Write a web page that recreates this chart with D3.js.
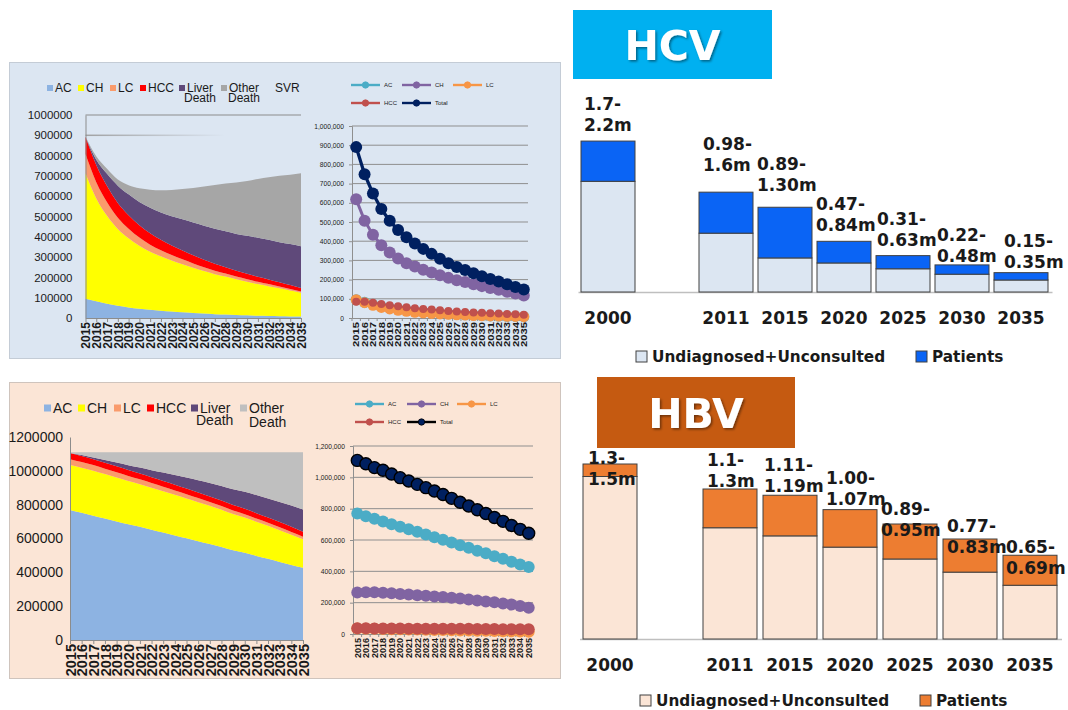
<!DOCTYPE html>
<html>
<head>
<meta charset="utf-8">
<script src="https://d3js.org/d3.v7.min.js"></script>
<style>
  body { margin: 0; background: #fff; }
  svg { display: block; }
  text { font-family: "Liberation Sans", Arial, sans-serif; fill: #1a1a1a; }
  .bold { font-family: "DejaVu Sans", Verdana, sans-serif; font-weight: bold; }
</style>
</head>
<body>
<svg id="chart" width="1068" height="710"></svg>
<script>
// ---- data ----
const years = [2015, 2016, 2017, 2018, 2019, 2020, 2021, 2022, 2023, 2024, 2025,
               2026, 2027, 2028, 2029, 2030, 2031, 2032, 2033, 2034, 2035];

// HCV model (persons)
const hcvAC  = [95000, 82000, 70000, 60000, 52000, 46000, 41000, 36000, 32000, 28000, 25000,
                22000, 19000, 17000, 15000, 13000, 11000, 10000, 9000, 8000, 7000];
const hcvCH  = [618000, 507000, 434000, 379000, 341000, 310000, 285000, 268000, 251000, 237000, 223000,
                209000, 197000, 187000, 176000, 166000, 156000, 147000, 137000, 127000, 117000];
const hcvLC  = [95000, 80000, 66000, 55000, 47000, 40000, 35000, 30000, 27000, 24000, 21000,
                19000, 17000, 15000, 13000, 12000, 11000, 10000, 9000, 8000, 7000];
const hcvHCC = [85000, 85000, 80000, 73000, 66000, 61000, 56000, 51000, 47000, 44000, 40000,
                37000, 34000, 31000, 29000, 27000, 25000, 23000, 21000, 19000, 17000];
const hcvLiverDeath = [0, 25000, 60000, 85000, 103000, 115000, 126000, 135000, 144000, 153000, 162000,
                168000, 173000, 177000, 181000, 187000, 192000, 195000, 197000, 202000, 206000];
const hcvOtherDeath = [0, 18000, 25000, 30000, 45000, 67000, 89000, 109000, 129000, 149000, 169000,
                193000, 215000, 235000, 254000, 270000, 290000, 308000, 328000, 342000, 359000];
const hcvTotal = [890000, 749000, 648000, 568000, 506000, 458000, 420000, 388000, 360000, 334000, 308000,
                285000, 266000, 250000, 233000, 218000, 203000, 190000, 176000, 162000, 148000];

// HBV model (persons)
const hbvAC  = [769000, 752000, 735000, 718000, 701000, 684000, 669000, 652000, 635000, 618000, 601000,
                584000, 567000, 550000, 531000, 516000, 497000, 480000, 461000, 444000, 427000];
const hbvCH  = [265000, 266000, 266000, 263000, 260000, 256000, 252000, 248000, 244000, 240000, 236000,
                231000, 226000, 220000, 214000, 208000, 202000, 195000, 188000, 178000, 168000];
const hbvLC  = [35000, 34000, 33000, 32000, 31000, 30000, 29000, 28000, 27000, 26000, 25000,
                24000, 23000, 22000, 21000, 20000, 19000, 18000, 17000, 16000, 15000];
const hbvHCC = [36000, 36000, 35000, 35000, 35000, 35000, 34000, 34000, 34000, 34000, 33000,
                33000, 33000, 33000, 32000, 32000, 32000, 31000, 31000, 31000, 30000];
const hbvLiverDeath = [0, 5000, 10000, 16000, 22000, 28000, 35000, 42000, 50000, 57000, 65000,
                72000, 79000, 86000, 93000, 100000, 107000, 113000, 119000, 126000, 132000];
const hbvOtherDeath = [5000, 17000, 31000, 46000, 61000, 77000, 91000, 106000, 120000, 135000, 150000,
                166000, 182000, 199000, 219000, 234000, 253000, 273000, 294000, 315000, 338000];
const hbvTotal = [1108000, 1087000, 1062000, 1045000, 1021000, 998000, 977000, 955000, 934000, 913000, 890000,
                866000, 841000, 817000, 793000, 769000, 744000, 719000, 693000, 668000, 643000];

// bar charts (millions)
const barYears = ["2000", "2011", "2015", "2020", "2025", "2030", "2035"];
const hcvUndiagnosed = [1.43, 0.76, 0.44, 0.375, 0.30, 0.23, 0.155];
const hcvPatients    = [0.52, 0.53, 0.655, 0.28, 0.17, 0.12, 0.095];
const hcvLow  = ["1.7", "0.98", "0.89", "0.47", "0.31", "0.22", "0.15"];
const hcvHigh = ["2.2m", "1.6m", "1.30m", "0.84m", "0.63m", "0.48m", "0.35m"];
const hbvUndiagnosed = [1.30, 0.89, 0.825, 0.735, 0.64, 0.535, 0.43];
const hbvPatients    = [0.10, 0.31, 0.325, 0.30, 0.28, 0.265, 0.24];
const hbvLow  = ["1.3", "1.1", "1.11", "1.00", "0.89", "0.77", "0.65"];
const hbvHigh = ["1.5m", "1.3m", "1.19m", "1.07m", "0.95m", "0.83m", "0.69m"];

const svg = d3.select("#chart");
const defs = svg.append("defs");
defs.append("filter").attr("id", "shadow").attr("x", "-20%").attr("y", "-20%").attr("width", "140%").attr("height", "140%")
  .append("feDropShadow").attr("dx", 1.5).attr("dy", 1.5).attr("stdDeviation", 1)
  .attr("flood-color", "#000").attr("flood-opacity", 0.45);
const fade = defs.append("linearGradient").attr("id", "fade");
fade.append("stop").attr("offset", "0%").attr("stop-color", "#9a9a9a").attr("stop-opacity", 0.9);
fade.append("stop").attr("offset", "100%").attr("stop-color", "#9a9a9a").attr("stop-opacity", 0);

// panels
svg.append("rect").attr("x", 9.5).attr("y", 62.5).attr("width", 551).attr("height", 296)
  .attr("fill", "#dce6f2").attr("stroke", "#c4ccd6");
svg.append("rect").attr("x", 9.5).attr("y", 382.5).attr("width", 551).attr("height", 296)
  .attr("fill", "#fbe5d6").attr("stroke", "#cfc4bd");

function areaChart(cfg) {
  const g = svg.append("g");
  const x = d3.scalePoint().domain(years).range([cfg.left, cfg.right]);
  const y = d3.scaleLinear().domain([0, cfg.yMax]).range([cfg.bottom, cfg.top]);
  const rows = years.map((yr, i) => {
    const r = {year: yr};
    cfg.series.forEach(s => r[s.key] = s.values[i]);
    return r;
  });
  const stacked = d3.stack().keys(cfg.series.map(s => s.key))(rows);
  const area = d3.area().x(d => x(d.data.year)).y0(d => y(d[0])).y1(d => y(d[1]))
    .curve(d3.curveMonotoneX);

  if (cfg.fadeLine) {
    g.append("rect").attr("x", cfg.left).attr("y", y(cfg.fadeLine) - 0.75)
      .attr("width", 140).attr("height", 1.5).attr("fill", "url(#fade)");
  }
  if (cfg.topLine) {
    g.append("line").attr("x1", cfg.left).attr("x2", cfg.right)
      .attr("y1", y(cfg.yMax)).attr("y2", y(cfg.yMax)).attr("stroke", "#8c8c8c");
  }

  g.selectAll("path.layer").data(stacked).join("path")
    .attr("class", "layer").attr("d", area)
    .attr("fill", (d, i) => cfg.series[i].color);

  const ya = g.append("g").attr("transform", `translate(${cfg.left},0)`)
    .call(d3.axisLeft(y).tickValues(cfg.yTicks).tickFormat(d3.format("d")).tickSize(0).tickPadding(cfg.tickPad));
  ya.select(".domain").attr("stroke", "#8c8c8c");
  ya.selectAll("text").style("font-size", cfg.yFont + "px").style("font-family", "Liberation Sans, Arial").attr("fill", "#222");

  const xa = g.append("g").attr("transform", `translate(0,${cfg.bottom})`)
    .call(d3.axisBottom(x).tickSize(4).tickSizeOuter(0));
  xa.select(".domain").attr("stroke", "#8c8c8c");
  xa.selectAll(".tick line").attr("stroke", "#8c8c8c");
  xa.selectAll("text")
    .attr("transform", "rotate(-90)")
    .attr("x", -4).attr("y", 0).attr("dy", "0.36em")
    .attr("text-anchor", "end")
    .style("font-size", cfg.xFont + "px").style("font-weight", "bold")
    .style("font-family", "Liberation Sans, Arial").attr("fill", "#222");

  // legend
  const lg = g.append("g");
  cfg.legend.forEach(it => {
    if (it.sq != null) {
      lg.append("rect").attr("x", it.sq).attr("y", cfg.legendY - cfg.sqSize / 2)
        .attr("width", cfg.sqSize).attr("height", cfg.sqSize).attr("fill", it.color);
    }
    lg.append("text").attr("x", it.tx).attr("y", cfg.legendY + cfg.legFont * 0.36)
      .style("font-size", cfg.legFont + "px").attr("fill", "#333").text(it.label);
    if (it.line2) {
      lg.append("text").attr("x", it.line2.x).attr("y", it.line2.y)
        .style("font-size", cfg.legFont + "px").attr("fill", "#333").text("Death");
    }
  });
}

function lineChart(cfg) {
  const g = svg.append("g");
  const x = d3.scaleBand().domain(years).range([cfg.left, cfg.right]);
  const cx = yr => x(yr) + x.bandwidth() / 2;
  const y = d3.scaleLinear().domain([0, cfg.yMax]).range([cfg.bottom, cfg.top]);

  g.selectAll("line.grid").data(cfg.yTicks.filter(v => v > 0)).join("line")
    .attr("class", "grid")
    .attr("x1", cfg.left).attr("x2", cfg.right)
    .attr("y1", d => y(d)).attr("y2", d => y(d))
    .attr("stroke", "#8f8f8f").attr("stroke-width", 1);

  const ya = g.append("g").attr("transform", `translate(${cfg.left},0)`)
    .call(d3.axisLeft(y).tickValues(cfg.yTicks).tickFormat(d3.format(",")).tickSize(3).tickPadding(5));
  ya.select(".domain").attr("stroke", "#8f8f8f");
  ya.selectAll(".tick line").attr("stroke", "#8f8f8f");
  ya.selectAll("text").style("font-size", "6.7px").style("font-family", "Liberation Sans, Arial").attr("fill", "#333");

  const xa = g.append("g").attr("transform", `translate(0,${cfg.bottom})`)
    .call(d3.axisBottom(x).tickSize(3).tickSizeOuter(0));
  xa.select(".domain").attr("stroke", "#8f8f8f");
  xa.selectAll(".tick line").attr("stroke", "#8f8f8f").attr("transform", `translate(${-x.bandwidth() / 2},0)`);
  xa.selectAll("text")
    .attr("transform", "rotate(-90)")
    .attr("x", -4).attr("y", 0).attr("dy", "0.36em")
    .attr("text-anchor", "end")
    .attr("textLength", cfg.xLabelLen).attr("lengthAdjust", "spacingAndGlyphs")
    .style("font-size", "9px").style("font-weight", "bold")
    .style("font-family", "Liberation Sans, Arial").attr("fill", "#333");

  const line = d3.line().x((d, i) => cx(years[i])).y(d => y(d));
  cfg.series.forEach(s => {
    g.append("path").datum(s.values).attr("d", line)
      .attr("fill", "none").attr("stroke", s.line).attr("stroke-width", s.width);
    g.append("g").selectAll("circle").data(s.values).join("circle")
      .attr("cx", (d, i) => cx(years[i])).attr("cy", d => y(d)).attr("r", s.r)
      .attr("fill", s.fill).attr("stroke", s.stroke).attr("stroke-width", s.sw);
  });

  // legend
  cfg.series.forEach(s => {
    const p = s.leg;
    g.append("line").attr("x1", p.x).attr("x2", p.x + 29).attr("y1", p.y).attr("y2", p.y)
      .attr("stroke", s.line).attr("stroke-width", 2.4);
    g.append("circle").attr("cx", p.x + 14.5).attr("cy", p.y).attr("r", 3.2)
      .attr("fill", s.fill).attr("stroke", s.stroke).attr("stroke-width", 0.8);
    g.append("text").attr("x", p.x + 33).attr("y", p.y + 2.2)
      .style("font-size", "6px").attr("fill", "#333").text(s.name);
  });
}

// ---- HCV area ----
areaChart({
  left: 85.5, right: 301, top: 115, bottom: 318, yMax: 1000000,
  yTicks: d3.range(0, 1000001, 100000), tickPad: 13, yFont: 11.5, xFont: 12,
  topLine: true, fadeLine: 900000,
  series: [
    {key: "AC", values: hcvAC, color: "#8db3e2"},
    {key: "CH", values: hcvCH, color: "#ffff00"},
    {key: "LC", values: hcvLC, color: "#fa9b6c"},
    {key: "HCC", values: hcvHCC, color: "#ff0000"},
    {key: "Liver Death", values: hcvLiverDeath, color: "#5f497a"},
    {key: "Other Death", values: hcvOtherDeath, color: "#a6a6a6"}
  ],
  legendY: 88, sqSize: 6, legFont: 12,
  legend: [
    {sq: 47, tx: 55, label: "AC", color: "#8db3e2"},
    {sq: 78, tx: 86, label: "CH", color: "#ffff00"},
    {sq: 110, tx: 118, label: "LC", color: "#fa9b6c"},
    {sq: 140, tx: 148, label: "HCC", color: "#ff0000"},
    {sq: 179, tx: 187, label: "Liver", color: "#5f497a", line2: {x: 184, y: 102}},
    {sq: 221, tx: 229, label: "Other", color: "#a6a6a6", line2: {x: 228, y: 102}},
    {sq: null, tx: 275, label: "SVR"}
  ]
});

// ---- HBV area ----
areaChart({
  left: 70, right: 303, top: 437, bottom: 640, yMax: 1200000,
  yTicks: d3.range(0, 1200001, 200000), tickPad: 7, yFont: 14, xFont: 14.5,
  topLine: false,
  series: [
    {key: "AC", values: hbvAC, color: "#8db3e2"},
    {key: "CH", values: hbvCH, color: "#ffff00"},
    {key: "LC", values: hbvLC, color: "#fa9b6c"},
    {key: "HCC", values: hbvHCC, color: "#ff0000"},
    {key: "Liver Death", values: hbvLiverDeath, color: "#5f497a"},
    {key: "Other Death", values: hbvOtherDeath, color: "#bfbfbf"}
  ],
  legendY: 408, sqSize: 7, legFont: 14,
  legend: [
    {sq: 44, tx: 53, label: "AC", color: "#8db3e2"},
    {sq: 78, tx: 87, label: "CH", color: "#ffff00"},
    {sq: 114, tx: 123, label: "LC", color: "#fa9b6c"},
    {sq: 147, tx: 156, label: "HCC", color: "#ff0000"},
    {sq: 191, tx: 200, label: "Liver", color: "#5f497a", line2: {x: 196, y: 425}},
    {sq: 240, tx: 249, label: "Other", color: "#bfbfbf", line2: {x: 249, y: 427}}
  ]
});

// ---- HCV lines ----
lineChart({
  left: 352, right: 528, top: 126, bottom: 318, yMax: 1000000,
  yTicks: d3.range(0, 1000001, 100000), xLabelLen: 25,
  series: [
    {name: "AC", values: hcvAC, line: "#4bacc6", width: 3, r: 5.5, fill: "#4bacc6", stroke: "#4bacc6", sw: 0, leg: {x: 351, y: 85}},
    {name: "CH", values: hcvCH, line: "#8064a2", width: 3, r: 6, fill: "#8064a2", stroke: "#8064a2", sw: 0, leg: {x: 402, y: 85}},
    {name: "LC", values: hcvLC, line: "#f79646", width: 3, r: 5.5, fill: "#f79646", stroke: "#f79646", sw: 0, leg: {x: 453, y: 85}},
    {name: "HCC", values: hcvHCC, line: "#c0504d", width: 2, r: 4, fill: "#c0504d", stroke: "#c0504d", sw: 0, leg: {x: 351, y: 103}},
    {name: "Total", values: hcvTotal, line: "#002060", width: 3.3, r: 6, fill: "#002060", stroke: "#002060", sw: 0, leg: {x: 402, y: 103}}
  ]
});

// ---- HBV lines ----
lineChart({
  left: 353, right: 533, top: 446, bottom: 634, yMax: 1200000,
  yTicks: d3.range(0, 1200001, 200000), xLabelLen: 20,
  series: [
    {name: "AC", values: hbvAC, line: "#4bacc6", width: 3, r: 6, fill: "#4bacc6", stroke: "#4bacc6", sw: 0, leg: {x: 355, y: 404}},
    {name: "CH", values: hbvCH, line: "#8064a2", width: 3, r: 6, fill: "#8064a2", stroke: "#8064a2", sw: 0, leg: {x: 407, y: 404}},
    {name: "LC", values: hbvLC, line: "#f79646", width: 3, r: 6, fill: "#f79646", stroke: "#f79646", sw: 0, leg: {x: 457, y: 404}},
    {name: "HCC", values: hbvHCC, line: "#c0504d", width: 3, r: 6, fill: "#c0504d", stroke: "#c0504d", sw: 0, leg: {x: 355, y: 422}},
    {name: "Total", values: hbvTotal, line: "#000000", width: 2.5, r: 6, fill: "#002060", stroke: "#000000", sw: 1.4, leg: {x: 407, y: 422}}
  ]
});

// ---- title boxes ----
function titleBox(x, y, w, h, color, label) {
  svg.append("rect").attr("x", x).attr("y", y).attr("width", w).attr("height", h).attr("fill", color);
  svg.append("text").attr("class", "bold").attr("x", x + w / 2).attr("y", y + h / 2 + 15)
    .attr("text-anchor", "middle").style("font-size", "41px").attr("fill", "#ffffff")
    .style("fill", "#ffffff").attr("filter", "url(#shadow)").text(label);
}
titleBox(573, 10, 199, 69, "#00b0f0", "HCV");
titleBox(597, 377, 198, 71, "#c55a11", "HBV");

// ---- stacked bar charts ----
function barChart(cfg) {
  const g = svg.append("g");
  const slots = ["2000", "", "2011", "2015", "2020", "2025", "2030", "2035"];
  const x = d3.scaleBand().domain(slots).range([cfg.r0, cfg.r1])
    .paddingInner(cfg.pad).paddingOuter(cfg.pad / 2);
  const y = d3.scaleLinear().domain([0, cfg.yMax]).range([cfg.base, cfg.base - cfg.yMax * cfg.pxPerM]);

  g.append("line").attr("x1", cfg.r0).attr("x2", cfg.r1 + 2)
    .attr("y1", cfg.base + 0.5).attr("y2", cfg.base + 0.5).attr("stroke", "#bfbfbf").attr("stroke-width", 1.5);

  barYears.forEach((yr, i) => {
    const u = cfg.undiag[i], p = cfg.patients[i];
    g.append("rect").attr("x", x(yr)).attr("width", x.bandwidth())
      .attr("y", y(u)).attr("height", y(0) - y(u))
      .attr("fill", cfg.light).attr("stroke", "#404040").attr("stroke-width", 1);
    g.append("rect").attr("x", x(yr)).attr("width", x.bandwidth())
      .attr("y", y(u + p)).attr("height", y(u) - y(u + p))
      .attr("fill", cfg.dark).attr("stroke", "#404040").attr("stroke-width", 1);

    const ty = y(u + p) + cfg.labelDy[i];
    const tx = x(yr) + cfg.labelDx[i];
    g.append("text").attr("class", "bold").attr("x", tx).attr("y", ty - 21)
      .style("font-size", "17px").attr("fill", "#111").text(cfg.low[i] + "-");
    g.append("text").attr("class", "bold").attr("x", tx).attr("y", ty)
      .style("font-size", "17px").attr("fill", "#111").text(cfg.high[i]);

    g.append("text").attr("class", "bold").attr("x", x(yr) + x.bandwidth() / 2).attr("y", cfg.axisY)
      .attr("text-anchor", "middle").style("font-size", "17px").attr("fill", "#111").text(yr);
  });

  // legend
  const L = cfg.legend;
  g.append("rect").attr("x", L.x1).attr("y", L.y - 11).attr("width", 11).attr("height", 11)
    .attr("fill", cfg.light).attr("stroke", "#404040");
  g.append("text").attr("class", "bold").attr("x", L.x1 + 16).attr("y", L.y)
    .style("font-size", "15.3px").attr("fill", "#111").text("Undiagnosed+Unconsulted");
  g.append("rect").attr("x", L.x2).attr("y", L.y - 11).attr("width", 11).attr("height", 11)
    .attr("fill", cfg.dark).attr("stroke", "#404040");
  g.append("text").attr("class", "bold").attr("x", L.x2 + 16).attr("y", L.y)
    .style("font-size", "15.3px").attr("fill", "#111").text("Patients");
}

barChart({
  r0: 578.5, r1: 1050.5, pad: 5 / 59, base: 292, yMax: 2.0, pxPerM: 77.4,
  undiag: hcvUndiagnosed, patients: hcvPatients, low: hcvLow, high: hcvHigh,
  light: "#dce6f2", dark: "#0a64f5",
  labelDx: [3, 4, -1, -1, 1, 2, 10], labelDy: [-10, -21, -16, -10, -10, -3, -5],
  axisY: 324, legend: {x1: 636, x2: 916, y: 362}
});

barChart({
  r0: 580, r1: 1060, pad: 0.1, base: 639, yMax: 1.5, pxPerM: 125,
  undiag: hbvUndiagnosed, patients: hbvPatients, low: hbvLow, high: hbvHigh,
  light: "#fbe5d6", dark: "#ed7d31",
  labelDx: [5, 4, 1, 3, -2, 4, 3], labelDy: [21, -2, -3, -5, 12, 14, 19],
  axisY: 671, legend: {x1: 640, x2: 920, y: 706}
});
</script>
</body>
</html>
